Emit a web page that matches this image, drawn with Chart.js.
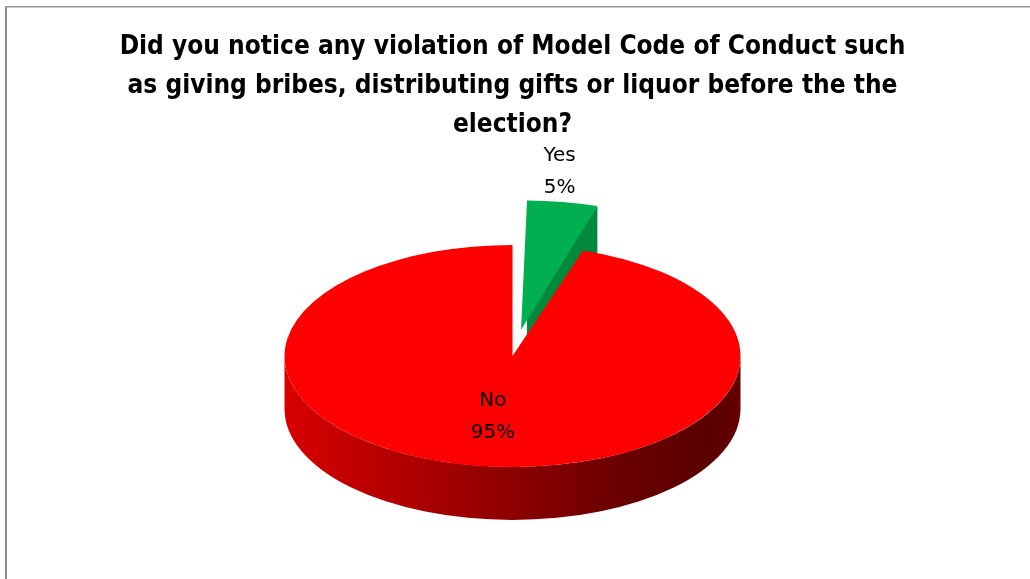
<!DOCTYPE html>
<html>
<head>
<meta charset="utf-8">
<script src="https://cdn.jsdelivr.net/npm/chart.js@4"></script>
<style>
  html, body { margin: 0; padding: 0; background: #ffffff; }
  #wrap { width: 1030px; height: 579px; position: relative; }
</style>
</head>
<body>
<div id="wrap"><canvas id="pie" width="1030" height="579"></canvas></div>
<script>
// Survey answers
const categories = ['Yes', 'No'];
const shares = [5, 95];
const titleLines = [
  'Did you notice any violation of Model Code of Conduct such',
  'as giving bribes, distributing gifts or liquor before the the',
  'election?'
];

// Slice styling
const topColors = ['#00B050', '#FF0000'];
const cutFaceColors = ['#00893D', '#9a0000'];

// 3-D look: vertical squash of the disc and thickness of the extruded wall
const TILT = 111 / 228;
const DEPTH = 53;

const total = shares.reduce((a, b) => a + b, 0);

// Same shift ArcElement applies when a slice has an offset
function arcShift(el) {
  const o = el.options.offset || 0;
  const circ = el.endAngle - el.startAngle;
  const fix = 1 - Math.sin(Math.min(Math.PI, circ));
  const t = o / 4 * (1 + fix);
  const h = (el.startAngle + el.endAngle) / 2;
  return { dx: Math.cos(h) * t, dy: Math.sin(h) * t };
}

const frame = {
  id: 'frame',
  beforeDraw(chart) {
    const ctx = chart.ctx;
    ctx.save();
    ctx.fillStyle = '#ffffff';
    ctx.fillRect(0, 0, chart.width, chart.height);
    ctx.fillStyle = '#8c8c8c';
    ctx.fillRect(5, 6, 2, chart.height);
    ctx.fillStyle = '#989898';
    ctx.fillRect(5, 6, chart.width, 1.5);
    ctx.restore();
  }
};

const pie3d = {
  id: 'pie3d',
  beforeDatasetsDraw(chart) {
    const ctx = chart.ctx;
    const arcs = chart.getDatasetMeta(0).data;
    const cy = arcs[0].y;
    ctx.save();
    ctx.translate(0, cy);
    ctx.scale(1, TILT);
    ctx.translate(0, -cy);
    const D = DEPTH / TILT;

    // radial cut faces that turn toward the viewer
    arcs.forEach((el, i) => {
      const { dx, dy } = arcShift(el);
      const ex = el.x + dx, ey = el.y + dy, R = el.outerRadius;
      const edges = [];
      if (Math.cos(el.endAngle) > 0.001) edges.push(el.endAngle);
      if (-Math.cos(el.startAngle) > 0.001) edges.push(el.startAngle);
      edges.forEach(a => {
        const px = ex + Math.cos(a) * R, py = ey + Math.sin(a) * R;
        ctx.beginPath();
        ctx.moveTo(ex, ey);
        ctx.lineTo(px, py);
        ctx.lineTo(px, py + D);
        ctx.lineTo(ex, ey + D);
        ctx.closePath();
        ctx.fillStyle = cutFaceColors[i];
        ctx.fill();
      });
    });

    // outer wall on the front half of the disc
    arcs.forEach((el) => {
      const { dx, dy } = arcShift(el);
      const ex = el.x + dx, ey = el.y + dy, R = el.outerRadius;
      const g = ctx.createLinearGradient(ex - R, 0, ex + R, 0);
      g.addColorStop(0, '#d80000');
      g.addColorStop(0.25, '#b20000');
      g.addColorStop(0.5, '#8c0000');
      g.addColorStop(0.75, '#680000');
      g.addColorStop(0.93, '#5a0000');
      g.addColorStop(1, '#640000');
      [-2 * Math.PI, 0, 2 * Math.PI].forEach(k => {
        const a = Math.max(el.startAngle, k);
        const b = Math.min(el.endAngle, k + Math.PI);
        if (a >= b) return;
        ctx.beginPath();
        ctx.arc(ex, ey, R, a, b);
        ctx.lineTo(ex + Math.cos(b) * R, ey + Math.sin(b) * R + D);
        ctx.arc(ex, ey + D, R, b, a, true);
        ctx.closePath();
        ctx.fillStyle = g;
        ctx.fill();
      });
    });
  },
  afterDatasetsDraw(chart) {
    const ctx = chart.ctx;
    ctx.restore();
    const arcs = chart.getDatasetMeta(0).data;
    const cy = arcs[0].y;
    ctx.save();
    ctx.font = '20px "DejaVu Sans", sans-serif';
    ctx.fillStyle = '#000000';
    ctx.textAlign = 'center';
    ctx.textBaseline = 'middle';
    arcs.forEach((el, i) => {
      const { dx, dy } = arcShift(el);
      const ex = el.x + dx, ey = el.y + dy, R = el.outerRadius;
      const h = (el.startAngle + el.endAngle) / 2;
      const lines = [categories[i], Math.round(shares[i] / total * 100) + '%'];
      let lx, ly;
      if (el.options.offset > 0) {
        // outside end: above the outer rim
        lx = ex + Math.cos(h) * R - 3;
        ly = cy + (ey + Math.sin(h) * R - cy) * TILT - 30;
      } else {
        lx = ex + Math.cos(h) * R * 0.55;
        ly = cy + (ey + Math.sin(h) * R * 0.55 - cy) * TILT;
      }
      ctx.fillText(lines[0], lx, ly - 16);
      ctx.fillText(lines[1], lx, ly + 16);
    });
    ctx.restore();
  }
};

new Chart(document.getElementById('pie'), {
  type: 'pie',
  data: {
    labels: categories,
    datasets: [{
      data: shares,
      backgroundColor: topColors,
      borderWidth: 0,
      offset: c => (c.dataIndex === 0 ? 218 : 0),
      radius: 228,
      clip: false
    }]
  },
  options: {
    responsive: false,
    animation: false,
    events: [],
    layout: { padding: { left: 0, right: 5, top: 0, bottom: 12 } },
    plugins: {
      legend: { display: false },
      tooltip: { enabled: false },
      title: {
        display: true,
        text: titleLines,
        color: '#000000',
        font: { family: '"Liberation Sans Narrow", "DejaVu Sans Condensed", sans-serif', size: 26, weight: 'bold', lineHeight: 1.5 },
        padding: { top: 28, bottom: 0 }
      }
    }
  },
  plugins: [frame, pie3d]
});
</script>
</body>
</html>
